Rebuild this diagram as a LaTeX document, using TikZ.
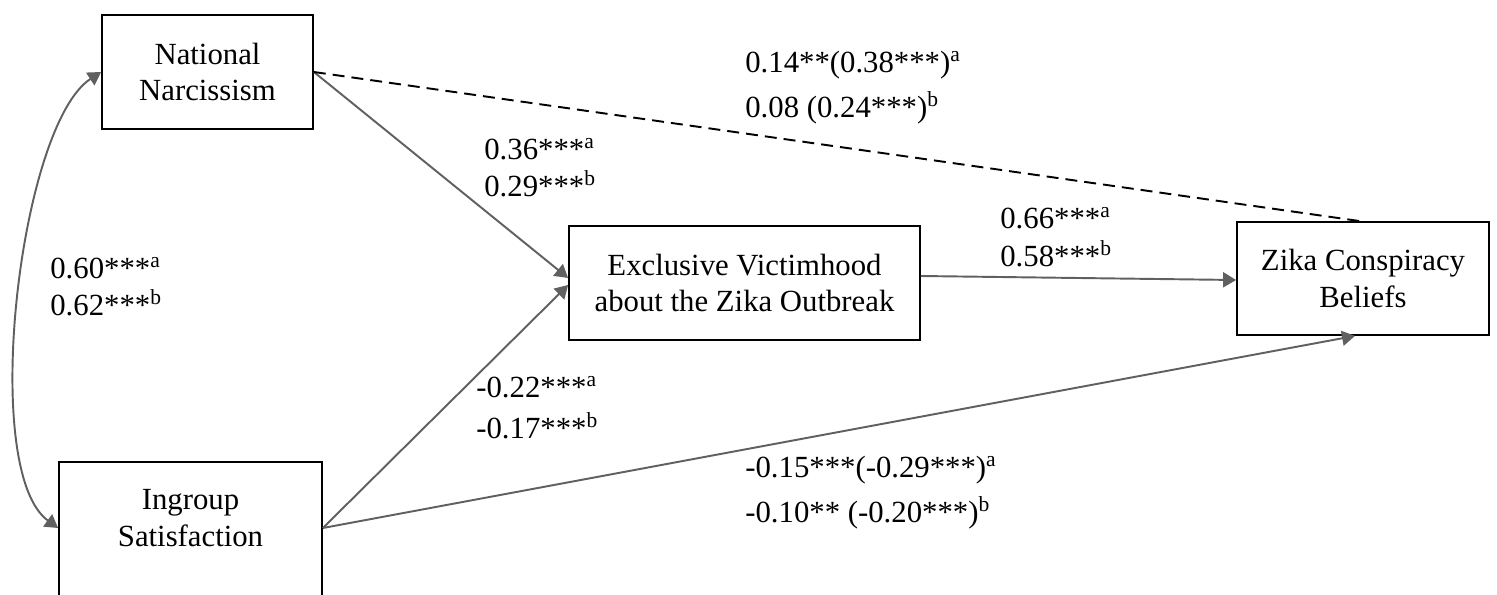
\documentclass[tikz,border=0pt]{standalone}
\usepackage{fontspec}
\setmainfont{Liberation Serif}
\usetikzlibrary{arrows.meta}
\definecolor{arrgray}{RGB}{96,96,96}

\tikzset{
  box/.style={draw, line width=1pt, align=center, inner sep=0pt, font=\fontsize{17.5}{21}\selectfont},
  boxtext/.style={align=center, inner sep=0pt, font=\fontsize{17.5}{21}\selectfont},
  coef/.style={anchor=west, align=left, inner sep=0pt, font=\fontsize{17.5}{21}\selectfont},
  arr/.style={draw=arrgray, line width=1.1pt, -{Triangle[length=0.26cm,width=0.3cm]}},
  dblarr/.style={arr, {Triangle[length=0.26cm,width=0.3cm]}-{Triangle[length=0.26cm,width=0.3cm]}},
  dashline/.style={draw=black, line width=1.1pt, dash pattern=on 6.8pt off 4pt}
}

\begin{document}
\begin{tikzpicture}
            \useasboundingbox (0,0) rectangle (29.94,11.88);
            % variables
            \node[box, minimum width=4.22cm, minimum height=2.28cm] (nn) at (4.15,10.44) {National\\Narcissism};
            \node[box, minimum width=5.26cm, minimum height=3.16cm] (ig) at (3.81,1.06) {};
            \node[boxtext] (igtext) at (3.81,1.52) {Ingroup\\Satisfaction};
            \node[box, minimum width=7.02cm, minimum height=2.28cm] (ev) at (14.89,6.22) {Exclusive Victimhood\\about the Zika Outbreak};
            \node[box, minimum width=5.04cm, minimum height=2.26cm] (zc) at (27.26,6.31) {Zika Conspiracy\\Beliefs};

            % paths
            \draw[dblarr] (nn.west) .. controls +(213:1.95) and +(144:1.95) .. ([yshift=0.26cm]ig.west);
            \draw[arr] (nn.east) -- ([yshift=0.1cm]ev.west);
            \draw[arr] ([yshift=0.26cm]ig.east) -- ([yshift=-0.04cm]ev.west);
            \draw[arr] ([yshift=0.26cm]ig.east) -- ([xshift=-0.16cm]zc.south);
            \draw[arr] ([yshift=0.14cm]ev.east) -- ([yshift=-0.03cm]zc.west);
            \draw[dashline] (nn.east) -- ([xshift=-0.06cm]zc.north);

            % coefficients
            \node[coef] (cnz) at (14.90,10.13) {0.14**(0.38***)\textsuperscript{a}\\[4.6pt]0.08 (0.24***)\textsuperscript{b}};
            \node[coef] (cne) at (9.68,8.52) {0.36***\textsuperscript{a}\\0.29***\textsuperscript{b}};
            \node[coef] (cez) at (20.00,7.14) {0.66***\textsuperscript{a}\\[0.6pt]0.58***\textsuperscript{b}};
            \node[coef] (cni) at (1.00,6.15) {0.60***\textsuperscript{a}\\0.62***\textsuperscript{b}};
            \node[coef] (cie) at (9.52,3.73) {-0.22***\textsuperscript{a}\\[2.3pt]-0.17***\textsuperscript{b}};
            \node[coef] (ciz) at (14.90,2.03) {-0.15***(-0.29***)\textsuperscript{a}\\[4.6pt]-0.10** (-0.20***)\textsuperscript{b}};
        \end{tikzpicture}
\end{document}
